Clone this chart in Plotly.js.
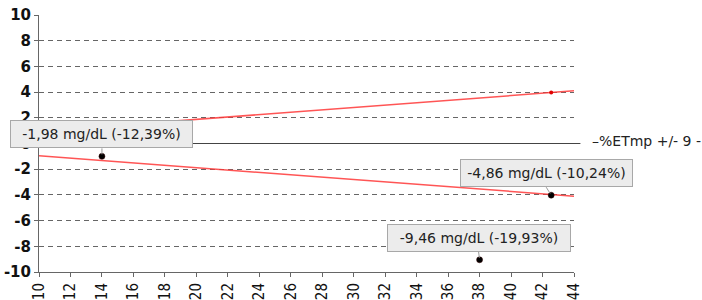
<!DOCTYPE html>
<html>
<head>
<meta charset="utf-8">
<script src="https://cdn.plot.ly/plotly-3.0.1.min.js"></script>
<style>html,body{margin:0;padding:0;background:#fff;}#chart{width:702px;height:300px;}</style>
</head>
<body>
<div id="chart"></div>
<script>
// Data
const limitX = [10, 44];
const upperLimit = [0.95, 4.1];
const lowerLimit = [-0.95, -4.1];
const pointX = [14, 42.55, 38];
const pointY = [-1.0, -4.02, -9.05];
const pointLabels = ["-1,98 mg/dL (-12,39%)", "-4,86 mg/dL (-10,24%)", "-9,46 mg/dL (-19,93%)"];
const upperMarkX = [42.55];
const upperMarkY = [3.97];
const legendText = "–%ETmp +/- 9 -";
const xTicks = [10,12,14,16,18,20,22,24,26,28,30,32,34,36,38,40,42,44];
const yTicks = [-10,-8,-6,-4,-2,0,2,4,6,8,10];

const red = 'rgba(255,55,55,0.85)';
const traces = [
  {x: limitX, y: upperLimit, mode: 'lines', line: {color: red, width: 1.5}, hoverinfo: 'skip'},
  {x: limitX, y: lowerLimit, mode: 'lines', line: {color: red, width: 1.5}, hoverinfo: 'skip'},
  {x: upperMarkX, y: upperMarkY, mode: 'markers', marker: {color: '#e00000', size: 4}, hoverinfo: 'skip'},
  {x: pointX, y: pointY, mode: 'markers', marker: {color: '#000', size: 6, line: {color: '#300', width: 0.5}}, hoverinfo: 'skip'}
];

const boxOffsets = [0, -5, -1];
const boxWidths = [173, 163, 174];
const annotations = pointX.map((x, i) => ({
  x: x, y: pointY[i], xref: 'x', yref: 'y',
  text: pointLabels[i],
  showarrow: true, arrowhead: 0, arrowwidth: 1, arrowcolor: '#9a9a9a',
  ax: boxOffsets[i], ay: -8, xanchor: 'center', yanchor: 'bottom', standoff: 2,
  bgcolor: '#ececec', bordercolor: '#a8a8a8', borderwidth: 1, borderpad: 4,
  width: boxWidths[i], height: 18,
  font: {family: 'DejaVu Sans, Verdana, sans-serif', size: 14, color: '#222'}
}));
annotations.push({
  xref: 'paper', yref: 'y', x: 1.03, y: 0.2, xanchor: 'left', yanchor: 'middle',
  text: legendText, showarrow: false,
  font: {family: 'DejaVu Sans, Verdana, sans-serif', size: 14, color: '#222'}
});

const layout = {
  width: 702, height: 300,
  margin: {l: 39, r: 128, t: 15, b: 28},
  paper_bgcolor: '#fff', plot_bgcolor: '#fff',
  showlegend: false,
  xaxis: {
    range: [10, 44], tickvals: xTicks, ticktext: xTicks.map(String),
    tickangle: -90, ticks: 'outside', ticklen: 4, tickcolor: '#666',
    showline: true, linecolor: '#666', linewidth: 1, showgrid: false, zeroline: false,
    tickfont: {family: 'Liberation Sans Narrow, DejaVu Sans Condensed, Arial Narrow, sans-serif', size: 15, color: '#111'}
  },
  yaxis: {
    range: [-10, 10], tickvals: yTicks, ticktext: yTicks.map(String),
    ticks: 'outside', ticklen: 4, tickcolor: '#666',
    showline: true, linecolor: '#666', linewidth: 1,
    showgrid: true, gridcolor: '#666', griddash: '5px,4px', gridwidth: 1,
    zeroline: false,
    tickfont: {family: 'DejaVu Sans, Verdana, sans-serif', size: 15, color: '#111', weight: 'bold'}
  },
  shapes: [
    {type: 'line', xref: 'paper', yref: 'y', x0: 0, x1: 1.012, y0: 0, y1: 0, line: {color: '#444', width: 1}, layer: 'above'},
    {type: 'rect', xref: 'paper', yref: 'y', x0: 0.002, x1: 0.999, y0: 9.9, y1: 10.4, fillcolor: '#fff', line: {width: 0}, layer: 'below'}
  ],
  annotations: annotations
};

Plotly.newPlot('chart', traces, layout, {displayModeBar: false, staticPlot: true});
</script>
</body>
</html>
